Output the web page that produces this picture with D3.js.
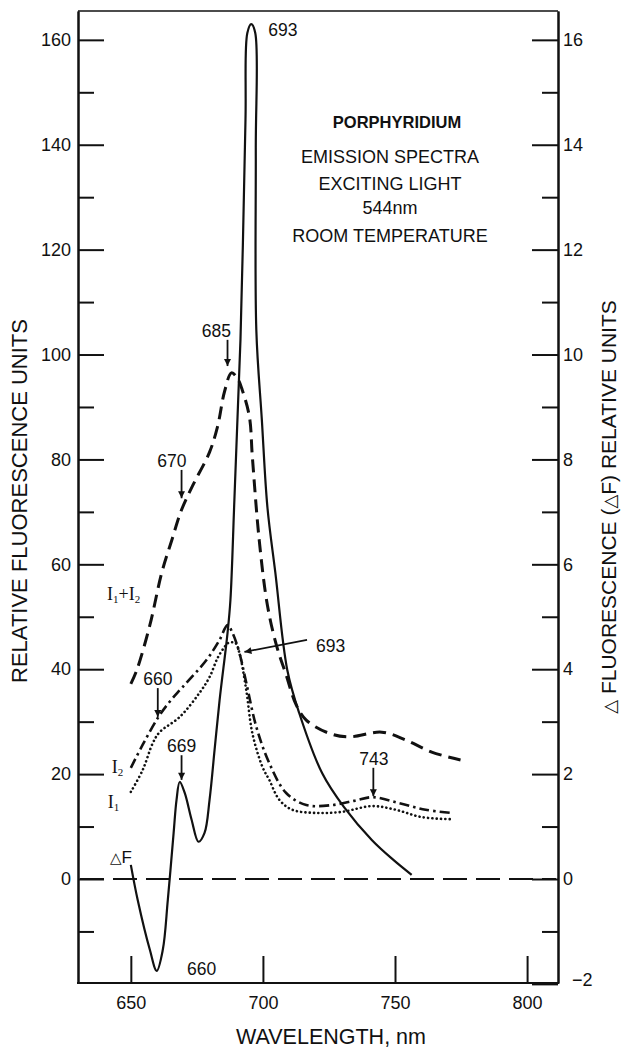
<!DOCTYPE html>
<html>
<head>
<meta charset="utf-8">
<script src="https://cdn.jsdelivr.net/npm/d3@7"></script>
<style>
  html, body { margin: 0; padding: 0; background: #fff; }
  svg { display: block; }
  text { fill: #111; font-family: "Liberation Sans", Arial, Helvetica, sans-serif; }
</style>
</head>
<body>
<svg id="chart" width="622" height="1050"></svg>
<script>
// ---------------- DATA ----------------
const wavelengthTicks = [650, 700, 750, 800];
const leftTicks = [0, 20, 40, 60, 80, 100, 120, 140, 160];
const leftMinorTicks = [-10, 10, 30, 50, 70, 90, 110, 130, 150];
const rightTicks = [-2, 0, 2, 4, 6, 8, 10, 12, 14, 16];
const rightMinorTicks = [-1, 1, 3, 5, 7, 9, 11, 13, 15];

// Delta F (right axis units)
const dfWavelength = [650.0, 652.6, 657.2, 659.8, 662.1, 664.0, 666.2, 667.3, 668.5, 670.4,
  673.0, 675.6, 677.9, 679.8, 681.7, 683.6, 686.6, 687.7, 689.2, 691.5,
  693.4, 694.1, 695.6, 697.1, 697.3, 697.5, 699.6, 701.7, 704.7, 709.2,
  713.7, 722.4, 730.7, 741.3, 749.5, 756.3];
const dfValue = [0.27, -0.40, -1.35, -1.75, -1.35, -0.40, 0.88, 1.51, 1.85, 1.64,
  1.13, 0.71, 0.88, 1.51, 2.46, 3.41, 4.69, 5.32, 7.23, 10.28,
  14.47, 16.13, 16.3, 16.13, 13.9, 10.47, 8.75, 7.09, 5.84, 3.99,
  3.17, 2.02, 1.37, 0.74, 0.36, 0.08];

// I1 + I2 (left axis units)
const sumWavelength = [650.0, 652.3, 657.2, 661.7, 665.5, 669.2, 673.4, 679.8, 682.8, 685.5,
  688.1, 690.3, 692.2, 694.9, 696.0, 698.6, 701.7, 705.1, 708.8, 712.6,
  716.4, 725.0, 732.6, 745.0, 754.1, 763.9, 774.8];
const sumValue = [37.2, 39.9, 48.4, 58.4, 64.6, 70.4, 75.0, 81.4, 86.2, 93.0,
  96.5, 95.5, 93.2, 88.1, 80.5, 64.6, 52.2, 44.6, 38.9, 33.2,
  30.3, 27.8, 27.1, 28.0, 26.5, 24.2, 22.7];

// I2 (left axis units)
const i2Wavelength = [650.0, 654.5, 660.2, 664.7, 669.6, 678.7, 683.6, 686.6, 688.5, 691.1,
  693.7, 697.5, 702.4, 708.8, 716.4, 726.2, 734.5, 741.6, 751.4, 761.6, 771.4];
const i2Value = [21.2, 25.6, 30.7, 33.8, 36.6, 41.8, 45.6, 48.4, 46.9, 43.1,
  37.4, 29.0, 22.1, 16.4, 14.1, 14.1, 14.9, 15.6, 14.5, 13.2, 12.6];

// I1 (left axis units)
const i1Wavelength = [650.0, 654.5, 658.3, 660.9, 668.5, 676.0, 679.8, 682.8, 685.4, 686.9,
  689.6, 691.1, 693.7, 696.0, 699.8, 702.4, 706.2, 711.1, 720.1, 729.9,
  741.3, 750.3, 760.1, 771.4];
const i1Value = [16.6, 20.8, 25.9, 28.0, 30.9, 35.5, 38.5, 42.1, 44.2, 45.0,
  45.0, 43.1, 36.0, 27.8, 21.4, 18.9, 15.1, 13.2, 12.6, 12.8,
  13.9, 13.2, 11.8, 11.4];

// Annotations (wavelength, left-axis value)
const peakLabels = [
  { text: "693", wl: 702.0, v: 160.8, anchor: "start" },
  { text: "685", wl: 682.4, v: 103.4, anchor: "middle" },
  { text: "670", wl: 665.5, v: 78.6, anchor: "middle" },
  { text: "693", wl: 720.1, v: 43.3, anchor: "start" },
  { text: "660", wl: 660.2, v: 37.0, anchor: "middle" },
  { text: "669", wl: 669.2, v: 24.2, anchor: "middle" },
  { text: "660", wl: 676.8, v: -18.3, anchor: "middle" },
  { text: "743", wl: 742.0, v: 21.7, anchor: "middle" }
];
const arrows = [
  { wl0: 686.6, v0: 102.8, wl1: 686.6, v1: 97.8 },
  { wl0: 669.2, v0: 78.0, wl1: 669.2, v1: 72.6 },
  { wl0: 716.7, v0: 45.6, wl1: 693.0, v1: 43.3 },
  { wl0: 660.2, v0: 36.4, wl1: 660.2, v1: 30.9 },
  { wl0: 669.2, v0: 23.6, wl1: 669.2, v1: 18.9 },
  { wl0: 741.8, v0: 21.2, wl1: 741.8, v1: 15.8 }
];
const infoLines = ["EMISSION SPECTRA", "EXCITING LIGHT", "544nm", "ROOM TEMPERATURE"];

// ---------------- LAYOUT ----------------
const svg = d3.select("#chart");
const L = 78, R = 558, T = 11, B = 983;
const x = d3.scaleLinear().domain([630, 811.7]).range([L, R]);
const yL = d3.scaleLinear().domain([-19.83, 165.5]).range([B, T]);
const yR = d3.scaleLinear().domain([-1.983, 16.55]).range([B, T]);

svg.append("defs").append("marker")
  .attr("id", "ah").attr("viewBox", "0 0 10 10").attr("refX", 10).attr("refY", 5)
  .attr("markerWidth", 10).attr("markerHeight", 7).attr("markerUnits", "userSpaceOnUse")
  .attr("orient", "auto")
  .append("path").attr("d", "M0,0 L10,5 L0,10 Z").attr("fill", "#111");

// axes
function styleAxis(g) {
  g.selectAll("path.domain").attr("stroke", "#111").attr("stroke-width", 2);
  g.selectAll(".tick line").attr("stroke", "#111").attr("stroke-width", 2);
  g.selectAll(".tick text").attr("fill", "#111")
    .style("font-family", '"Liberation Sans", Arial, sans-serif').style("font-size", "18px");
}
const gl = svg.append("g").attr("transform", `translate(${L},0)`)
  .call(d3.axisLeft(yL).tickValues(leftTicks).tickSizeInner(-26).tickSizeOuter(0).tickPadding(7));
styleAxis(gl);
const glm = svg.append("g").attr("transform", `translate(${L},0)`)
  .call(d3.axisLeft(yL).tickValues(leftMinorTicks).tickSizeInner(-16).tickSizeOuter(0).tickFormat(""));
styleAxis(glm);

const gr = svg.append("g").attr("transform", `translate(${R},0)`)
  .call(d3.axisRight(yR).tickValues(rightTicks).tickSizeInner(-26).tickSizeOuter(0).tickPadding(5));
styleAxis(gr);
gr.selectAll(".tick").filter(d => d === -2).select("text").attr("x", 14).attr("dy", "0.1em");
const grm = svg.append("g").attr("transform", `translate(${R},0)`)
  .call(d3.axisRight(yR).tickValues(rightMinorTicks).tickSizeInner(-16).tickSizeOuter(0).tickFormat(""));
styleAxis(grm);

const gb = svg.append("g").attr("transform", `translate(0,${B})`)
  .call(d3.axisBottom(x).tickValues(wavelengthTicks).tickSizeInner(-27).tickSizeOuter(0).tickPadding(13));
styleAxis(gb);
gb.select("path.domain").attr("d", `M${L - 1},0H${R + 1}`);

svg.append("line").attr("x1", L).attr("x2", R).attr("y1", T).attr("y2", T)
  .attr("stroke", "#111").attr("stroke-width", 1.5);

// zero baseline
svg.append("line").attr("x1", L + 2).attr("x2", R - 2).attr("y1", yL(0)).attr("y2", yL(0))
  .attr("stroke", "#111").attr("stroke-width", 2).attr("stroke-dasharray", "24,9");

// curves
const curve = d3.curveCatmullRom.alpha(0.5);
function series(wl, vals, yScale) { return wl.map((w, i) => [x(w), yScale(vals[i])]); }
const lineGen = d3.line().curve(curve);

svg.append("path").attr("d", lineGen(series(sumWavelength, sumValue, yL)))
  .attr("fill", "none").attr("stroke", "#111").attr("stroke-width", 3).attr("stroke-dasharray", "13,7");
svg.append("path").attr("d", lineGen(series(i2Wavelength, i2Value, yL)))
  .attr("fill", "none").attr("stroke", "#111").attr("stroke-width", 2.6).attr("stroke-dasharray", "10,4,2.5,4");
svg.append("path").attr("d", lineGen(series(i1Wavelength, i1Value, yL)))
  .attr("fill", "none").attr("stroke", "#111").attr("stroke-width", 2.6)
  .attr("stroke-linecap", "round").attr("stroke-dasharray", "0.1,4.2");
svg.append("path").attr("d", lineGen(series(dfWavelength, dfValue, yR)))
  .attr("fill", "none").attr("stroke", "#111").attr("stroke-width", 2.2);

// arrows
svg.selectAll("line.arrow").data(arrows).join("line").attr("class", "arrow")
  .attr("x1", d => x(d.wl0)).attr("y1", d => yL(d.v0))
  .attr("x2", d => x(d.wl1)).attr("y2", d => yL(d.v1))
  .attr("stroke", "#111").attr("stroke-width", 1.8).attr("marker-end", "url(#ah)");

// peak labels
svg.selectAll("text.peak").data(peakLabels).join("text").attr("class", "peak")
  .attr("x", d => x(d.wl)).attr("y", d => yL(d.v)).attr("text-anchor", d => d.anchor)
  .style("font-size", "17.5px").text(d => d.text);

// series labels
function serifLabel(px, py, parts) {
  const t = svg.append("text").attr("x", px).attr("y", py)
    .style("font-family", '"Liberation Serif", "Times New Roman", serif').style("font-size", "18px");
  parts.forEach(p => {
    const ts = t.append("tspan").text(p.t);
    if (p.sub) ts.attr("baseline-shift", "-25%").style("font-size", "11px");
  });
}
serifLabel(x(641.0), yL(53.2), [{ t: "I" }, { t: "1", sub: true }, { t: "+I" }, { t: "2", sub: true }]);
serifLabel(x(642.8), yL(20.2), [{ t: "I" }, { t: "2", sub: true }]);
serifLabel(x(641.3), yL(13.5), [{ t: "I" }, { t: "1", sub: true }]);
svg.append("text").attr("x", x(642.1)).attr("y", yL(3.05)).style("font-size", "17px")
  .html('<tspan style="font-family:\'DejaVu Sans\';font-size:15px">△</tspan>F');

// info block
svg.append("text").attr("x", 397).attr("y", 128).attr("text-anchor", "middle")
  .style("font-weight", "bold").style("font-size", "16.5px").text("PORPHYRIDIUM");
svg.selectAll("text.info").data(infoLines).join("text").attr("class", "info")
  .attr("x", 390).attr("y", (d, i) => [163, 190, 214, 242][i]).attr("text-anchor", "middle")
  .style("font-size", "18px").text(d => d);

// axis titles
svg.append("text").attr("transform", "translate(27,501) rotate(-90)").attr("text-anchor", "middle")
  .style("font-size", "22px").text("RELATIVE FLUORESCENCE UNITS");
svg.append("text").attr("transform", "translate(616,507) rotate(-90)").attr("text-anchor", "middle")
  .style("font-size", "21px")
  .html('<tspan style="font-family:\'DejaVu Sans\';font-size:18px">△</tspan> FLUORESCENCE (<tspan style="font-family:\'DejaVu Sans\';font-size:18px">△</tspan>F) RELATIVE UNITS');
svg.append("text").attr("x", 331).attr("y", 1044).attr("text-anchor", "middle")
  .style("font-size", "21.5px").text("WAVELENGTH, nm");
</script>
</body>
</html>
